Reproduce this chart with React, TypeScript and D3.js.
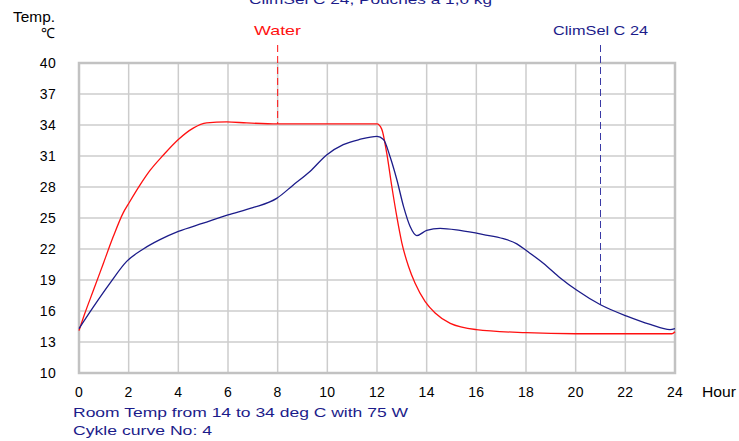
import React from "react";
import * as d3 from "d3";

// hours and temperatures
const waterHours = [0, 0.24, 0.58, 0.98, 1.38, 1.78, 2.0, 2.46, 2.86, 3.4, 4.0, 4.6, 5.14, 5.95, 6.75, 8.0, 10.0, 12.0, 12.19, 12.39, 12.6, 12.8, 13.0, 13.27, 13.53, 13.94, 14.34, 14.95, 16.0, 18.0, 20.0, 22.0, 23.87, 24];
const waterTemps = [14.1, 15.8, 18.0, 20.6, 23.2, 25.5, 26.4, 28.2, 29.6, 31.1, 32.6, 33.7, 34.2, 34.3, 34.2, 34.1, 34.1, 34.1, 33.6, 31.3, 28.0, 25.1, 22.6, 20.3, 18.7, 16.9, 15.8, 14.8, 14.2, 13.9, 13.8, 13.8, 13.8, 14.0];

const climHours = [0, 0.58, 1.25, 1.92, 2.59, 3.26, 4.0, 5.0, 6.0, 7.0, 7.96, 8.63, 9.3, 9.97, 10.64, 11.3, 12.0, 12.26, 12.53, 12.8, 13.07, 13.33, 13.6, 14.0, 14.54, 15.34, 16.29, 17.09, 17.63, 18.04, 18.71, 19.38, 20.05, 21.0, 22.06, 23.0, 23.8, 24];
const climTemps = [14.3, 16.4, 18.7, 20.8, 22.0, 22.9, 23.7, 24.5, 25.3, 26.0, 26.9, 28.2, 29.5, 31.1, 32.1, 32.6, 32.9, 32.6, 30.9, 28.7, 26.1, 24.2, 23.3, 23.8, 24.0, 23.8, 23.4, 23.0, 22.5, 21.8, 20.6, 19.2, 18.0, 16.6, 15.5, 14.7, 14.2, 14.3];

const xTicks = [0, 2, 4, 6, 8, 10, 12, 14, 16, 18, 20, 22, 24];
const yTicks = [10, 13, 16, 19, 22, 25, 28, 31, 34, 37, 40];

const markerHours = [8, 21];

const RED = "#ff1010";
const NAVY = "#1c1c8a";
const FONT = "'Liberation Sans', Arial, sans-serif";

export default function App() {
  const width = 739;
  const height = 441;
  const x = d3.scaleLinear().domain([0, 24]).range([79, 675]);
  const y = d3.scaleLinear().domain([10, 40]).range([373, 63]);

  const line = d3
    .line<[number, number]>()
    .x(d => x(d[0]))
    .y(d => y(d[1]))
    .curve(d3.curveMonotoneX);

  const water = waterHours.map((h, i) => [h, waterTemps[i]] as [number, number]);
  const clim = climHours.map((h, i) => [h, climTemps[i]] as [number, number]);

  const waterAt = d3.scaleLinear().domain(waterHours).range(waterTemps);
  const climAt = d3.scaleLinear().domain(climHours).range(climTemps);

  // the original's labels are drawn wide: stretch glyphs to the measured widths
  const wide = "spacingAndGlyphs";

  return (
    <svg
      width={width}
      height={height}
      style={{ position: "absolute", left: 0, top: 0, background: "#fff" }}
      fontFamily={FONT}
    >
      {/* title, cut off at the top like the original */}
      <text x={249} y={4} fontSize={13.5} fill={NAVY} textLength={243} lengthAdjust={wide}>
        ClimSel C 24, Pouches à 1,0 kg
      </text>

      <text x={13} y={22} fontSize={14} fill="#000" textLength={42} lengthAdjust={wide}>Temp.</text>
      <text x={55} y={38} fontSize={14} fill="#000" textAnchor="end">℃</text>

      {/* grid */}
      {xTicks.map(t => (
        <line key={"gx" + t} x1={x(t)} x2={x(t)} y1={y(40)} y2={y(10)} stroke="#cccccc" strokeWidth={1.5} />
      ))}
      {yTicks.map(t => (
        <line key={"gy" + t} x1={x(0)} x2={x(24)} y1={y(t)} y2={y(t)} stroke="#cccccc" strokeWidth={1.5} />
      ))}
      <rect x={x(0)} y={y(40)} width={x(24) - x(0)} height={y(10) - y(40)} fill="none" stroke="#c2c2c2" strokeWidth={2.5} />

      {/* axis labels */}
      {yTicks.map(t => (
        <text key={"ly" + t} x={56} y={y(t) + 5} textAnchor="end" fontSize={14} fill="#000" letterSpacing={0.3}>{t}</text>
      ))}
      {xTicks.map(t => (
        <text key={"lx" + t} x={x(t)} y={397} textAnchor="middle" fontSize={14} fill="#000" letterSpacing={0.3}>{t}</text>
      ))}
      <text x={702} y={397} fontSize={14} fill="#000" textLength={34} lengthAdjust={wide}>Hour</text>

      {/* markers */}
      <line x1={x(markerHours[0])} x2={x(markerHours[0])} y1={45} y2={y(waterAt(markerHours[0]))} stroke={RED} strokeWidth={1} strokeDasharray="7,4" />
      <text x={254} y={35} fontSize={13.5} fill={RED} textLength={47} lengthAdjust={wide}>Water</text>
      <line x1={x(markerHours[1])} x2={x(markerHours[1])} y1={45} y2={y(climAt(markerHours[1]))} stroke="#3a3aa6" strokeWidth={1} strokeDasharray="7,4" />
      <text x={553} y={35} fontSize={13.5} fill={NAVY} textLength={95} lengthAdjust={wide}>ClimSel C 24</text>

      {/* curves */}
      <path d={line(water) ?? ""} fill="none" stroke={RED} strokeWidth={1.3} />
      <path d={line(clim) ?? ""} fill="none" stroke={NAVY} strokeWidth={1.3} />

      <text x={73} y={417} fontSize={13.5} fill={NAVY} textLength={335} lengthAdjust={wide}>Room Temp from 14 to 34 deg C with 75 W</text>
      <text x={73} y={435} fontSize={13.5} fill={NAVY} textLength={139} lengthAdjust={wide}>Cykle curve No: 4</text>
    </svg>
  );
}
